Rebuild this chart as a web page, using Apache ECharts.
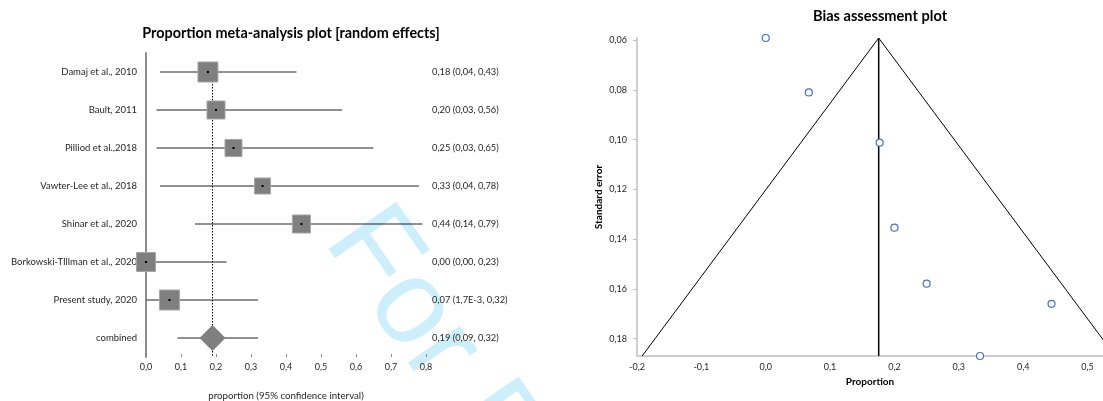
<!DOCTYPE html>
<html>
<head>
<meta charset="utf-8">
<script src="https://cdn.jsdelivr.net/npm/echarts@6/dist/echarts.min.js"></script>
<style>
  html, body { margin: 0; padding: 0; background: #ffffff; }
  #chart { width: 1103px; height: 401px; }
</style>
</head>
<body>
<div id="chart"></div>
<script>
// Studies in the proportion meta-analysis
const studies = [
  'Damaj et al., 2010',
  'Bault, 2011',
  'Pilliod et al.,2018',
  'Vawter-Lee et al., 2018',
  'Shinar et al., 2020',
  'Borkowski-TIllman et al., 2020',
  'Present study, 2020'
];
// Study proportions with 95% confidence limits
const proportion = [0.177, 0.200, 0.250, 0.333, 0.444, 0.000, 0.067];
const ciLow      = [0.04, 0.03, 0.03, 0.04, 0.14, 0.00, 0.0017];
const ciHigh     = [0.43, 0.56, 0.65, 0.78, 0.79, 0.23, 0.32];
// Random-effects weights (%) used to size the squares
const weights    = [17.0, 13.8, 12.3, 10.9, 13.8, 15.3, 17.0];
// Standard errors of the study proportions
const stdError   = [0.1012, 0.1354, 0.1579, 0.1870, 0.1660, 0.0591, 0.0810];
// Pooled random-effects estimate
const combinedLabel = 'combined';
const pooled = { est: 0.19, low: 0.09, high: 0.32 };
// Funnel outline (proportion, standard error) and its centre line
const funnelX  = [-0.192, 0.1755, 0.543];
const funnelSE = [0.187, 0.0591, 0.187];
const centreX  = 0.1755;
// Axis ticks
const biasXTicks  = [-0.2, -0.1, 0, 0.1, 0.2, 0.3, 0.4, 0.5];
const biasYTicks  = [0.06, 0.08, 0.10, 0.12, 0.14, 0.16, 0.18];

const FONT = 'Lato, "Open Sans", sans-serif';
const TXT = '#262626';

function comma(v, d) { return v.toFixed(d).replace('.', ','); }
function ciNum(v) {
  if (v > 0 && v < 0.005) {
    const e = Math.floor(Math.log10(v));
    return (v / Math.pow(10, e)).toFixed(1).replace('.', ',') + 'E' + e;
  }
  return comma(v, 2);
}
function effectText(est, lo, hi) {
  return comma(est, 2) + ' (' + ciNum(lo) + ', ' + ciNum(hi) + ')';
}

const rows = studies.concat([combinedLabel]);
const rowText = proportion.map((p, i) => effectText(p, ciLow[i], ciHigh[i]))
  .concat([effectText(pooled.est, pooled.low, pooled.high)]);

const ciData = proportion.map((p, i) => [ciLow[i], ciHigh[i], i])
  .concat([[pooled.low, pooled.high, studies.length]]);
const squareData = proportion.map((p, i) => [p, i, weights[i]]);
const dotData = proportion.map((p, i) => [p, i]);
const funnelPoints = proportion.map((p, i) => [p, stdError[i]]);

const chart = echarts.init(document.getElementById('chart'), null, { renderer: 'canvas' });

const option = {
  animation: false,
  backgroundColor: '#ffffff',
  textStyle: { fontFamily: FONT },
  graphic: [{
    type: 'text',
    x: 350, y: 222,
    rotation: -55 * Math.PI / 180,
    z: -10,
    silent: true,
    style: {
      text: 'For Peer Review',
      font: '120px "Liberation Sans", Arial, sans-serif',
      fill: '#cdeefb',
      align: 'left',
      verticalAlign: 'middle'
    }
  }],
  title: [
    {
      text: 'Proportion meta-analysis plot [random effects]',
      left: 286, top: 21, textAlign: 'center',
      textStyle: { fontFamily: FONT, fontSize: 14.4, fontWeight: 'bold', color: '#000' }
    },
    {
      text: 'Bias assessment plot',
      left: 875, top: 4, textAlign: 'center',
      textStyle: { fontFamily: FONT, fontSize: 14.6, fontWeight: 'bold', color: '#000' }
    }
  ],
  grid: [
    { left: 146, right: 677, top: 53, bottom: 44, outerBoundsMode: 'none', containLabel: false },
    { left: 637, right: 0, top: 38, bottom: 45, outerBoundsMode: 'none', containLabel: false }
  ],
  xAxis: [
    {
      gridIndex: 0, type: 'value', min: 0, max: 0.8, interval: 0.1,
      name: 'proportion (95% confidence interval)', nameLocation: 'middle', nameGap: 34,
      nameTextStyle: { fontFamily: FONT, fontSize: 9.7, color: TXT },
      axisLine: { lineStyle: { color: '#8c8c8c', width: 1.5 } },
      axisTick: { show: true, inside: true, length: 3, lineStyle: { color: '#8c8c8c' } },
      axisLabel: { fontFamily: FONT, fontSize: 9, color: TXT, margin: 6,
        formatter: v => comma(v, 1) },
      splitLine: { show: false }
    },
    {
      gridIndex: 1, type: 'value', min: -0.2, max: 0.524,
      name: 'Proportion', nameLocation: 'middle', nameGap: 20,
      nameTextStyle: { fontFamily: FONT, fontSize: 10, fontWeight: 'bold', color: '#000' },
      axisLine: { onZero: false, lineStyle: { color: '#bfbfbf', width: 1.5 } },
      axisTick: { show: false },
      axisLabel: { fontFamily: FONT, fontSize: 9, color: TXT, margin: 7,
        customValues: biasXTicks, formatter: v => comma(v, 1) },
      splitLine: { show: false }
    }
  ],
  yAxis: [
    {
      gridIndex: 0, type: 'category', data: rows, inverse: true,
      axisLine: { onZero: false, lineStyle: { color: '#8c8c8c', width: 2 } },
      axisTick: { show: false },
      axisLabel: { fontFamily: FONT, fontSize: 9.5, color: TXT, margin: 9 },
      splitLine: { show: false }
    },
    {
      gridIndex: 0, type: 'category', data: rowText, inverse: true, position: 'right',
      axisLine: { show: false, onZero: false },
      axisTick: { show: false },
      axisLabel: { fontFamily: FONT, fontSize: 9.3, color: TXT, margin: 6 },
      splitLine: { show: false }
    },
    {
      gridIndex: 1, type: 'value', min: 0.0591, max: 0.187, inverse: true,
      name: 'Standard error', nameLocation: 'middle', nameGap: 33,
      nameTextStyle: { fontFamily: FONT, fontSize: 10, fontWeight: 'bold', color: '#000' },
      axisLine: { show: true, onZero: false, lineStyle: { color: '#bfbfbf', width: 1.5 } },
      axisTick: { show: true, length: 4, customValues: biasYTicks,
        lineStyle: { color: '#bfbfbf' } },
      axisLabel: { fontFamily: FONT, fontSize: 9, color: TXT, margin: 10,
        customValues: biasYTicks, formatter: v => comma(v, 2) },
      splitLine: { show: false }
    }
  ],
  series: [
    // pooled estimate reference line
    {
      type: 'custom', xAxisIndex: 0, yAxisIndex: 0, z: 1,
      data: [[pooled.est, 0]],
      renderItem(params, api) {
        const top = api.coord([api.value(0), api.value(1)]);
        const cs = params.coordSys;
        return {
          type: 'line',
          shape: { x1: top[0], y1: top[1], x2: top[0], y2: cs.y + cs.height },
          style: { stroke: '#000', lineWidth: 1, lineDash: [1.5, 1.5] }
        };
      }
    },
    // confidence intervals
    {
      type: 'custom', xAxisIndex: 0, yAxisIndex: 0, z: 2,
      data: ciData,
      encode: { x: [0, 1], y: 2 },
      renderItem(params, api) {
        const r = api.value(2);
        const a = api.coord([api.value(0), r]);
        const b = api.coord([api.value(1), r]);
        return {
          type: 'line',
          shape: { x1: a[0], y1: a[1], x2: b[0], y2: b[1] },
          style: { stroke: '#222', lineWidth: 1 }
        };
      }
    },
    // study squares sized by weight
    {
      type: 'scatter', xAxisIndex: 0, yAxisIndex: 0, z: 3,
      symbol: 'rect',
      symbolSize: v => Math.sqrt(v[2]) * 4.85,
      itemStyle: { color: '#7f7f7f', borderColor: '#a6a6a6', borderWidth: 1, opacity: 1 },
      data: squareData
    },
    // point estimate markers
    {
      type: 'scatter', xAxisIndex: 0, yAxisIndex: 0, z: 4,
      symbol: 'rect', symbolSize: 2,
      itemStyle: { color: '#000', opacity: 1 },
      data: dotData
    },
    // pooled diamond
    {
      type: 'scatter', xAxisIndex: 0, yAxisIndex: 0, z: 3,
      symbol: 'diamond', symbolSize: 26,
      itemStyle: { color: '#7f7f7f', opacity: 1 },
      data: [[pooled.est, studies.length]]
    },
    // funnel outline
    {
      type: 'line', xAxisIndex: 1, yAxisIndex: 2, z: 2,
      symbol: 'none', clip: true,
      lineStyle: { color: '#000', width: 1 },
      data: funnelX.map((x, i) => [x, funnelSE[i]])
    },
    // funnel centre line
    {
      type: 'line', xAxisIndex: 1, yAxisIndex: 2, z: 2,
      symbol: 'none', clip: true,
      lineStyle: { color: '#000', width: 1.5 },
      data: [[centreX, funnelSE[1]], [centreX, funnelSE[0]]]
    },
    // study points
    {
      type: 'scatter', xAxisIndex: 1, yAxisIndex: 2, z: 3,
      symbol: 'circle', symbolSize: 7, clip: false,
      itemStyle: { color: '#ffffff', borderColor: '#4472c4', borderWidth: 1.2, opacity: 1 },
      data: funnelPoints
    }
  ]
};

chart.setOption(option);
</script>
</body>
</html>
